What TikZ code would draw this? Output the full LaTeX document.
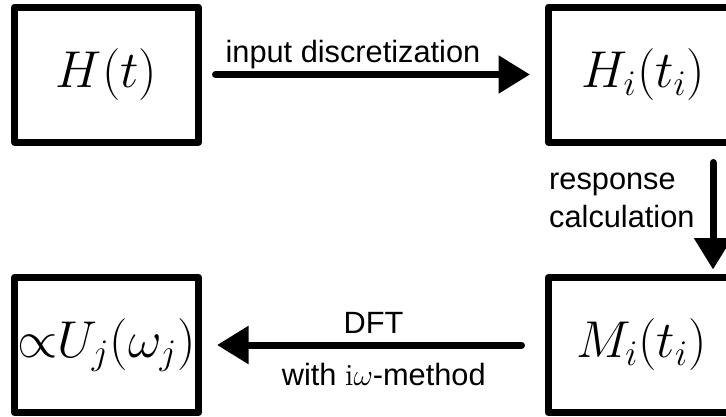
\documentclass[tikz,border=0pt]{standalone}
\usepackage{amsmath}
\usepackage{fontspec}
\setsansfont{Liberation Sans}
\usepackage{tikz}
\usetikzlibrary{arrows.meta}

\begin{document}
\begin{tikzpicture}[x=0.4pt, y=-0.4pt,
    block/.style={draw, line width=2.8pt, line join=round, inner sep=0pt,
        minimum height=54pt, font=\huge},
    flow/.style={line width=2.8pt, line cap=round,
        -{Triangle[length=12.6pt, width=14.6pt]}},
    lbl/.style={font=\sffamily\fontsize{12.3}{15.2}\selectfont, inner sep=0pt}]

    \useasboundingbox (0,0) rectangle (726,416);
    \clip (0,0) rectangle (726,416);

    % Blocks
    \node[block, minimum width=73.6pt] (cont) at (106.5,74.5) {$H(t)$};
    \node[block, minimum width=76pt] (disc) at (643.5,74.5) {$H_i(t_i)$};
    \node[block, minimum width=74.4pt] (resp) at (641.5,345) {$M_i(t_i)$};
    \node[block, minimum width=73.6pt] (spec) at (106.5,345) {$\mathord{\propto}U_j(\omega_j)$};

    % Input discretization
    \draw[flow, shorten <=5.4pt, shorten >=6pt] (cont) -- (disc)
        node[lbl, pos=0.44, anchor=base, yshift=5pt] {input discretization};

    % Response calculation
    \coordinate (tap) at ([xshift=-11.6pt]disc.south east);
    \draw[flow, shorten <=6.8pt, shorten >=1.8pt] (tap) -- (tap |- resp.north)
        node[lbl, pos=0.43, anchor=east, xshift=-6pt, align=left] {response\\calculation};

    % DFT
    \draw[flow, shorten <=9.4pt, shorten >=6pt] (resp) -- (spec)
        node[lbl, pos=0.5, anchor=base, yshift=4.8pt] {DFT}
        node[lbl, pos=0.47, anchor=base, yshift=-16pt] {with $\mathrm{i}\omega$-method};
\end{tikzpicture}
\end{document}
